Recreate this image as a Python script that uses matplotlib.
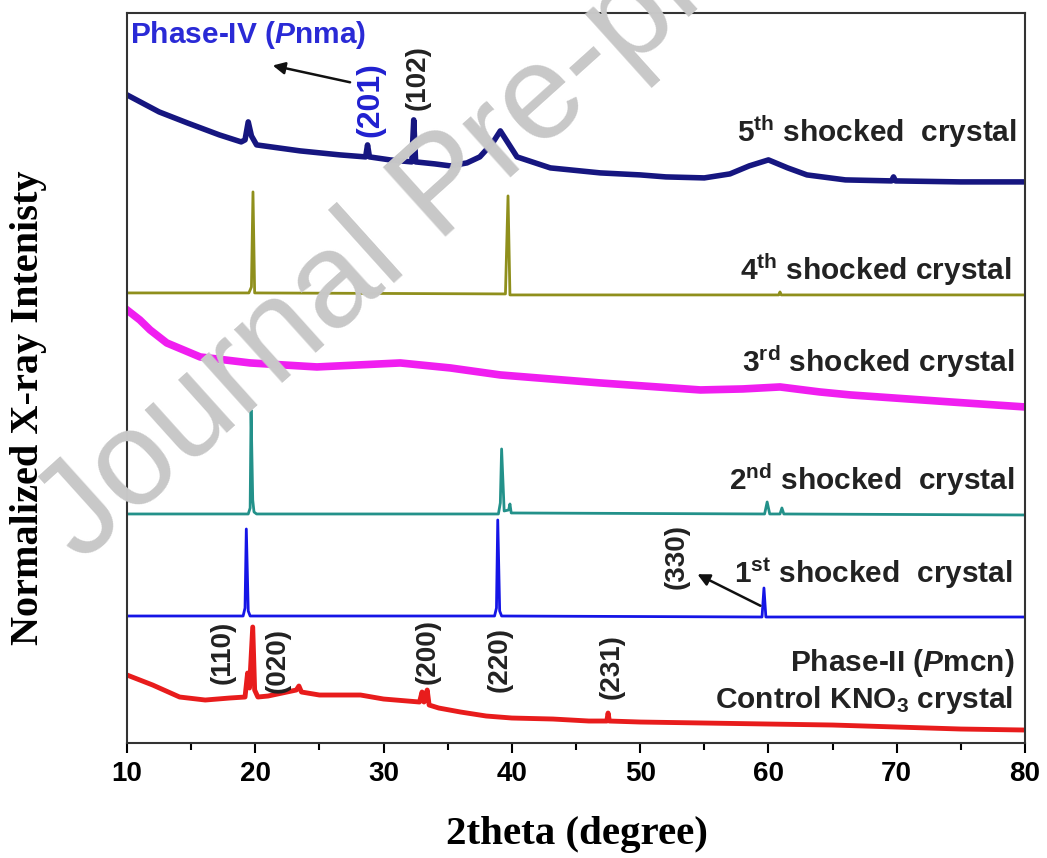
import matplotlib
matplotlib.use("Agg")
import matplotlib.pyplot as plt

plt.rcParams['font.family'] = ['Liberation Sans', 'DejaVu Sans']
plt.rcParams['font.weight'] = 'bold'
plt.rcParams['mathtext.fontset'] = 'custom'
plt.rcParams['mathtext.rm'] = 'Liberation Sans:bold'
plt.rcParams['mathtext.it'] = 'Liberation Sans:italic:bold'
plt.rcParams['mathtext.bf'] = 'Liberation Sans:bold'

# 5th shocked crystal (Phase-IV)
x5 = [10, 12.5, 14.7, 17.2, 18.9, 19.2, 19.45, 19.7, 20.1, 23.5, 26.6, 28.6, 28.75, 28.9,
      30.5, 32.2, 32.35, 32.5, 34, 35.2, 36.5, 37.5, 38.5, 39.1, 39.7, 40.4, 43, 46.9, 50,
      52, 55, 57, 58.5, 60, 61.5, 63, 66, 69.6, 69.75, 69.9, 75, 80]
y5 = [648, 631, 620, 608, 601, 603, 621, 607, 598, 592, 588, 586, 598, 586,
      583, 581, 623, 581, 579, 577, 580, 586, 600, 612, 600, 586, 575, 570, 568,
      566, 565, 569, 577, 583, 575, 568, 563, 562, 566, 562, 561, 561]

# 4th shocked crystal
x4 = [10, 19.5, 19.7, 19.82, 19.95, 39.5, 39.7, 39.85, 60.8, 60.9, 61.0, 80]
y4 = [450, 450, 456, 551, 450, 449, 547, 448, 448, 451, 448, 448]

# 3rd shocked crystal
x3 = [10, 11, 11.8, 13.1, 15.7, 19.6, 24.8, 31.3, 35.2, 39.1, 46.9, 54.7, 58, 60.9,
      64, 66.4, 74.2, 80]
y3 = [433, 423, 413, 400, 386, 380, 376, 380, 375, 368, 360, 353, 354, 356,
      351, 348, 341, 336]

# 2nd shocked crystal
x2 = [10, 19.45, 19.6, 19.67, 19.8, 19.9, 20.1, 38.95, 39.1, 39.2, 39.4, 39.75, 39.85,
      39.95, 59.7, 59.9, 60.1, 60.9, 61.05, 61.2, 80]
y2 = [229, 229, 235, 333, 243, 231, 229, 229, 240, 294, 232, 233, 239,
      230, 229, 241, 229, 229, 235, 229, 228]

# 1st shocked crystal
x1 = [10, 19.05, 19.2, 19.3, 19.45, 19.6, 38.65, 38.8, 38.9, 39.05, 39.2, 59.5, 59.65,
      59.8, 80]
y1 = [127, 127, 135, 214, 132, 127, 127, 135, 223, 132, 127, 126, 155, 126, 126]

# Control KNO3 crystal (Phase-II)
x0 = [10, 12, 14.1, 16.1, 18, 19.2, 19.4, 19.55, 19.8, 19.95, 20.2, 21, 23.2, 23.4, 23.6,
      25, 28.2, 30, 32.8, 33.0, 33.15, 33.4, 33.55, 34.3, 36, 38, 40, 43.2, 46, 47.4,
      47.5, 47.6, 50, 55, 60, 65, 70, 75, 80]
y0 = [68, 58, 46, 43, 45, 46, 70, 55, 116, 53, 46, 47, 53, 57, 51,
      48, 48, 44, 41, 51, 41, 53, 38, 35, 31, 27, 25, 24, 22, 22,
      30, 22, 21, 20, 19, 18, 16, 14, 13]

fig = plt.figure(figsize=(10.47, 8.58), dpi=100)
ax = fig.add_axes([0.1213, 0.134, 0.8577, 0.851])

ax.plot(x5, y5, color='#161680', lw=4)
ax.plot(x4, y4, color='#8f8f1c', lw=2)
ax.plot(x3, y3, color='#f01ef0', lw=5.5)
ax.plot(x2, y2, color='#23918a', lw=2)
ax.plot(x1, y1, color='#1515e6', lw=2)
ax.plot(x0, y0, color='#e81c1c', lw=3.5)

ax.set_xlim(10, 80)
ax.set_ylim(0, 730)
ax.set_xticks(range(10, 81, 10))
ax.set_xticks(range(15, 80, 10), minor=True)
ax.set_yticks([])
ax.tick_params(axis='x', which='major', length=7, width=1.5, labelsize=20, pad=6)
ax.tick_params(axis='x', which='minor', length=5, width=1.5)
for lab in ax.get_xticklabels():
    lab.set_fontweight('bold')
for s in ax.spines.values():
    s.set_linewidth(1.5)
    s.set_color('#333333')

fs = 21.5
tc = '#222222'
# trace labels
ax.text(79.37, 611, r"5$^{\mathrm{th}}$ shocked  crystal", ha='right', va='center', fontsize=fs, color=tc)
ax.text(78.98, 473, r"4$^{\mathrm{th}}$ shocked crystal", ha='right', va='center', fontsize=fs, color=tc)
ax.text(79.2, 381, r"3$^{\mathrm{rd}}$ shocked crystal", ha='right', va='center', fontsize=fs, color=tc)
ax.text(79.2, 263, r"2$^{\mathrm{nd}}$ shocked  crystal", ha='right', va='center', fontsize=fs, color=tc)
ax.text(79.05, 170, r"1$^{\mathrm{st}}$ shocked  crystal", ha='right', va='center', fontsize=fs, color=tc)
ax.text(79.2, 80, r"Phase-II ($\mathit{P}$mcn)", ha='right', va='center', fontsize=fs, color=tc)
ax.text(79.05, 43, r"Control KNO$_3$ crystal", ha='right', va='center', fontsize=fs, color=tc)
ax.text(10.23, 708, r"Phase-IV ($\mathit{P}$nma)", ha='left', va='center', fontsize=fs, color='#2a2ad6')

# Miller indices
hkl = [("(201)", 28.94, 643, '#2020d0', 23), ("(102)", 32.68, 665, tc, 20),
       ("(330)", 52.87, 186, tc, 20), ("(110)", 17.48, 91, tc, 20),
       ("(020)", 21.77, 83, tc, 20), ("(200)", 33.46, 92, tc, 20),
       ("(220)", 39.07, 84, tc, 20), ("(231)", 47.8, 76, tc, 20)]
for t, hx, hy, c, s in hkl:
    ax.text(hx, hy, t, rotation=90, ha='center', va='center', fontsize=s, color=c)

ax.annotate("", xy=(21.15, 678), xytext=(27.6, 660),
            arrowprops=dict(arrowstyle='-|>', color='#111111', lw=1.8, mutation_scale=18))
ax.annotate("", xy=(54.27, 170), xytext=(59.57, 136),
            arrowprops=dict(arrowstyle='-|>', color='#111111', lw=1.8, mutation_scale=18))

fig.text(0.551, 0.027, "2theta (degree)", ha='center', va='center', fontsize=29.5,
         family='Liberation Serif', weight='bold')
fig.text(0.027, 0.5245, "Normalized X-ray Intenisty", ha='center', va='center', rotation=90,
         fontsize=29, family='Liberation Serif', weight='bold')

# watermark
fig.text(0.078, 0.342, "Journal Pre-proof", rotation=42, rotation_mode='anchor',
         ha='left', va='baseline', fontsize=97, color='#c8c8c8', weight='normal',
         family='Liberation Sans', zorder=10)

fig.savefig("out.png", dpi=100)
